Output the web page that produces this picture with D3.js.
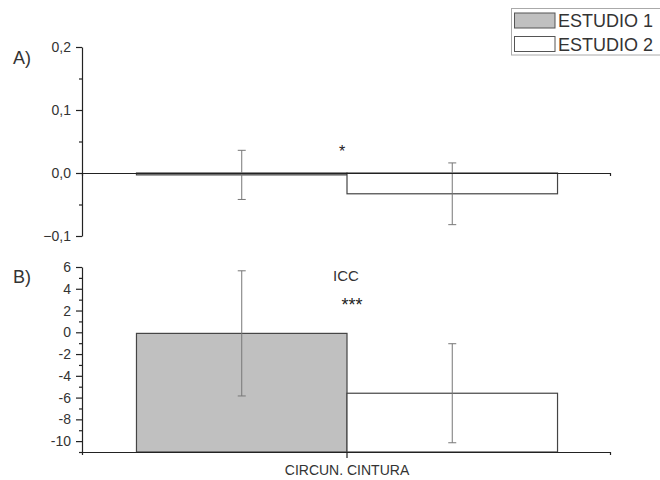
<!DOCTYPE html>
<html><head><meta charset="utf-8">
<script src="https://cdn.jsdelivr.net/npm/d3@7"></script>
<style>body{margin:0;background:#fff;} svg{display:block;font-family:"Liberation Sans",Arial,sans-serif;}</style>
</head><body><svg id="c" width="660" height="480"></svg>
<script>
const categories = ["CIRCUN. CINTURA"];
const series = ["ESTUDIO 1", "ESTUDIO 2"];
const seriesFill = ["#c0c0c0", "#ffffff"];
// Panel A
const valuesA = [-0.003, -0.033];
const errorsA = [0.039, 0.049];
const ticksA = [-0.1, 0.0, 0.1, 0.2];
const minorA = [-0.05, 0.05, 0.15];
// Panel B
const valuesB = [-0.1, -5.6];
const errorsB = [5.75, 4.55];
const ticksB = [-10, -8, -6, -4, -2, 0, 2, 4, 6];
const minorB = [-11, -9, -7, -5, -3, -1, 1, 3, 5];
const panelLabels = ["A)", "B)"];
const annotA = "*";
const annotB1 = "ICC";
const annotB2 = "***";

const svg = d3.select("#c");
const x0 = 82, x1 = 610;
const xCat = d3.scaleBand().domain(categories).range([x0 + 1, x1 + 1]).paddingInner(0).paddingOuter(0.127);
const xSer = d3.scaleBand().domain(series).range([0, xCat.bandwidth()]).padding(0);
const axisCol = "#222", textCol = "#333";

function panel(yDomain, yRange, baseline, values, errors, ticks, minor, fmt, barStroke) {
  const y = d3.scaleLinear().domain(yDomain).range(yRange);
  const g = svg.append("g");
  categories.forEach(c => {
    series.forEach((s, i) => {
      const bx = xCat(c) + xSer(s);
      const v = values[i];
      g.append("rect")
        .attr("x", bx).attr("width", xSer.bandwidth())
        .attr("y", Math.min(y(v), y(baseline)))
        .attr("height", Math.max(Math.abs(y(baseline) - y(v)), 1.5))
        .attr("fill", seriesFill[i]).attr("stroke", barStroke[i]).attr("stroke-width", 1.2);
    });
  });
  categories.forEach(c => {
    series.forEach((s, i) => {
      const cx = xCat(c) + xSer(s) + xSer.bandwidth() / 2;
      const v = values[i], e = errors[i];
      const eg = g.append("g").attr("stroke", "#777").attr("stroke-width", 1);
      eg.append("line").attr("x1", cx).attr("x2", cx).attr("y1", y(v + e)).attr("y2", y(v - e));
      [v + e, v - e].forEach(t => eg.append("line").attr("x1", cx - 4).attr("x2", cx + 4).attr("y1", y(t)).attr("y2", y(t)));
    });
  });
  const ay = g.append("g").attr("transform", `translate(${x0},0)`)
    .call(d3.axisLeft(y).tickValues(ticks).tickFormat(fmt).tickSize(6).tickSizeOuter(0));
  ay.select(".domain").attr("stroke", axisCol).attr("stroke-width", 1.2);
  ay.selectAll(".tick line").attr("stroke", axisCol).attr("stroke-width", 1.2);
  ay.selectAll("text").attr("fill", textCol).attr("font-size", 14).attr("x", -11);
  const am = g.append("g").attr("transform", `translate(${x0},0)`)
    .call(d3.axisLeft(y).tickValues(minor).tickFormat("").tickSize(3).tickSizeOuter(0));
  am.select(".domain").remove();
  am.selectAll(".tick line").attr("stroke", axisCol).attr("stroke-width", 1.2);
  const xs = d3.scaleLinear().domain([0, 1]).range([x0, x1]);
  const ax = g.append("g").attr("transform", `translate(0,${y(baseline)})`)
    .call(d3.axisBottom(xs).tickValues([]).tickSizeOuter(3));
  ax.select(".domain").attr("stroke", axisCol).attr("stroke-width", 1.2);
  return y;
}

const yA = panel([-0.1, 0.2], [236, 47], 0, valuesA, errorsA, ticksA, minorA,
  d => d3.format(".1f")(d).replace(".", ","), ["#444", "#444"]);
const yB = panel([-11, 6], [452, 267], -11, valuesB, errorsB, ticksB, minorB,
  d => String(d), ["#444", "#444"]);

const axC = svg.append("g").attr("transform", `translate(0,${yB(-11)})`)
  .call(d3.axisBottom(xCat).tickSize(0).tickSizeOuter(0));
axC.select(".domain").remove();
axC.selectAll("text").attr("fill", textCol).attr("font-size", 14).attr("y", 0).attr("dy", 0)
  .attr("transform", "translate(0,23)");
categories.forEach(c => {
  const cx = xCat(c) + xCat.bandwidth() / 2;
  svg.append("line").attr("x1", cx).attr("x2", cx).attr("y1", yB(-11)).attr("y2", yB(-11) + 6)
    .attr("stroke", axisCol).attr("stroke-width", 1.2);
});

svg.append("text").attr("x", 13).attr("y", 64).attr("font-size", 18).attr("fill", textCol).text(panelLabels[0]);
svg.append("text").attr("x", 13).attr("y", 283).attr("font-size", 18).attr("fill", textCol).text(panelLabels[1]);

svg.append("text").attr("x", 342).attr("y", 157).attr("text-anchor", "middle").attr("font-size", 16).attr("fill", "#222").text(annotA);
svg.append("text").attr("x", 346).attr("y", 281).attr("text-anchor", "middle").attr("font-size", 15).attr("fill", textCol).text(annotB1);
svg.append("text").attr("x", 352).attr("y", 311).attr("text-anchor", "middle").attr("font-size", 18).attr("fill", "#222").text(annotB2);

const lg = svg.append("g");
lg.append("rect").attr("x", 511.5).attr("y", 8.5).attr("width", 155).attr("height", 46.5)
  .attr("fill", "#fff").attr("stroke", "#aaa").attr("stroke-width", 1);
series.forEach((s, i) => {
  const yy = 13 + i * 23.5;
  lg.append("rect").attr("x", 514.5).attr("y", yy).attr("width", 40.5).attr("height", 15)
    .attr("fill", seriesFill[i]).attr("stroke", "#555").attr("stroke-width", 1);
  lg.append("text").attr("x", 558).attr("y", yy + 14).attr("font-size", 18).attr("fill", textCol).text(s);
});
</script></body></html>
